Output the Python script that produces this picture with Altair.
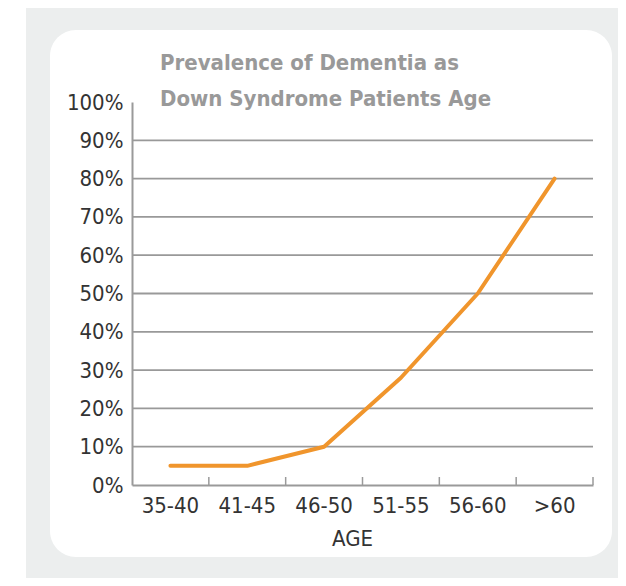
import altair as alt
import pandas as pd

ages = ["35-40", "41-45", "46-50", "51-55", "56-60", ">60"]
prevalence = [0.05, 0.05, 0.10, 0.28, 0.50, 0.80]
y_ticks = [0, 0.1, 0.2, 0.3, 0.4, 0.5, 0.6, 0.7, 0.8, 0.9, 1.0]
grid_values = [0.1, 0.2, 0.3, 0.4, 0.5, 0.6, 0.7, 0.8, 0.9]
title_lines = ["Prevalence of Dementia as", "Down Syndrome Patients Age"]
x_title = "AGE"

df = pd.DataFrame({"age": ages, "prev": prevalence})
grid_df = pd.DataFrame({"prev": grid_values})
one = pd.DataFrame({"k": [0]})

FONT = "Liberation Sans Narrow, Arial Narrow, DejaVu Sans Condensed, sans-serif"
W, H = 461, 383

yscale = alt.Scale(domain=[0, 1], nice=False)
y_axis = alt.Axis(
    title=None, format="%", values=y_ticks, ticks=False, zindex=1, grid=False,
    domainColor="#9a9a9a", domainWidth=2,
    labelFont=FONT, labelFontSize=22, labelColor="#333333", labelPadding=9,
)

x_enc = alt.X(
    "age:N", sort=ages,
    scale=alt.Scale(paddingInner=0, paddingOuter=0),
    axis=alt.Axis(
        title=x_title, labelAngle=0, ticks=False, zindex=1,
        domainColor="#9a9a9a", domainWidth=2,
        labelFont=FONT, labelFontSize=22, labelColor="#333333", labelPadding=10,
        titleFont=FONT, titleFontSize=22, titleFontWeight="normal",
        titleColor="#333333", titlePadding=12, titleX=220,
    ),
)

bg_grey = alt.Chart(one).mark_rect(color="#eceeee").encode(
    x=alt.value(-106), x2=alt.value(W + 40), y=alt.value(-100), y2=alt.value(H + 100)
)
bg_white = alt.Chart(one).mark_rect(color="#ffffff", cornerRadius=26).encode(
    x=alt.value(-82), x2=alt.value(480), y=alt.value(-72), y2=alt.value(455)
)
grid = alt.Chart(grid_df).mark_rule(color="#999999", strokeWidth=1.8).encode(
    y=alt.Y("prev:Q", scale=yscale, axis=y_axis)
)
line = alt.Chart(df).mark_line(color="#f0952c", strokeWidth=4, strokeCap="round", strokeJoin="round").encode(
    x=x_enc, y=alt.Y("prev:Q", scale=yscale, axis=y_axis)
)
ticks = alt.Chart(df).mark_rule(color="#9a9a9a", strokeWidth=1.5).encode(
    x=alt.X("age:N", sort=ages, bandPosition=1),
    y=alt.value(H), y2=alt.value(H - 8),
)
title = alt.Chart(one).mark_text(
    font=FONT, fontSize=22, fontWeight="bold", color="#999999",
    align="left", baseline="alphabetic", lineHeight=36,
).encode(x=alt.value(28), y=alt.value(-32), text=alt.value(title_lines))

chart = alt.layer(bg_grey, bg_white, grid, line, ticks, title).properties(
    width=W, height=H,
    autosize=alt.AutoSizeParams(type="none"),
    padding={"left": 124, "top": 94, "right": 25, "bottom": 93},
    background="#ffffff",
).configure_view(stroke=None)

chart.save("out.html", embed_options={"renderer": "svg", "actions": False})
